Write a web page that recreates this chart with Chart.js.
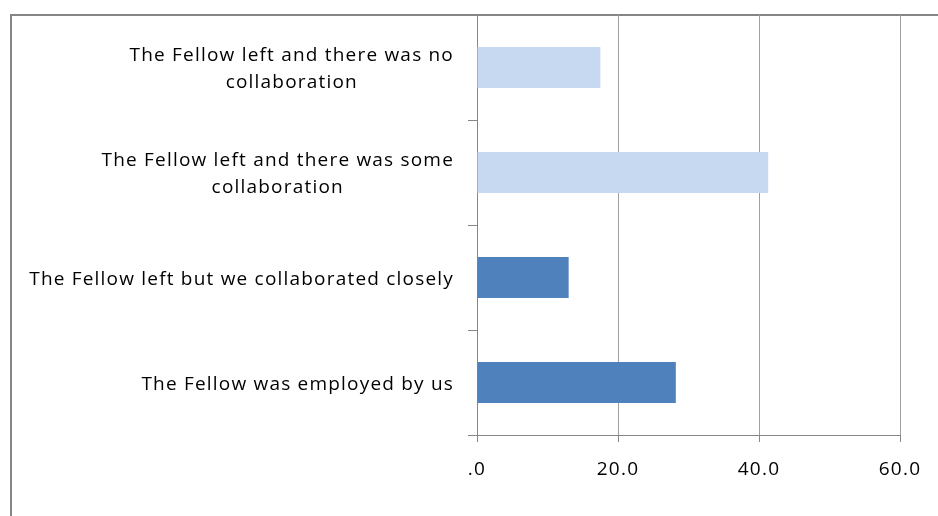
<!DOCTYPE html>
<html>
<head>
<meta charset="utf-8">
<script src="https://cdn.jsdelivr.net/npm/chart.js@4/dist/chart.umd.min.js"></script>
<style>
  html, body { margin: 0; padding: 0; background: #fff; }
  #wrap { width: 938px; height: 516px; position: relative; }
</style>
</head>
<body>
<div id="wrap"><canvas id="c" width="938" height="516"></canvas></div>
<script>
// Response categories, top to bottom, split into display lines
const categories = [
  ["The Fellow left and there was no", "collaboration"],
  ["The Fellow left and there was some", "collaboration"],
  ["The Fellow left but we collaborated closely"],
  ["The Fellow was employed by us"]
];
// Share of responses (%)
const shares = [17.5, 41.3, 13.0, 28.2];
// Value-axis tick labels
const xTickValues = [0, 20, 40, 60];
const xTickLabels = [".0", "20.0", "40.0", "60.0"];

const LIGHT = "#C6D9F1";
const DARK = "#4F81BD";
const AXIS = "#868686";
const FONT = "19px 'Open Sans', Lato, sans-serif";
const SPACING = "1.2px";

function setText(ctx) {
  ctx.font = FONT;
  ctx.fillStyle = "#000";
  ctx.letterSpacing = SPACING;
}

// Outer chart frame (top and left edges)
const framePlugin = {
  id: "frame",
  beforeDraw(chart) {
    const ctx = chart.ctx;
    ctx.save();
    ctx.strokeStyle = AXIS;
    ctx.lineWidth = 2;
    ctx.beginPath();
    ctx.moveTo(11, chart.height);
    ctx.lineTo(11, 15);
    ctx.lineTo(chart.width, 15);
    ctx.stroke();
    ctx.restore();
  }
};

// Category labels (right-aligned blocks, centred lines) and value-axis labels
const labelPlugin = {
  id: "labels",
  afterDraw(chart) {
    const ctx = chart.ctx;
    const y = chart.scales.y;
    const x = chart.scales.x;
    const rightEdge = y.right - 23;
    const lineH = 27;
    ctx.save();
    setText(ctx);
    ctx.textBaseline = "middle";
    ctx.textAlign = "center";
    categories.forEach((lines, i) => {
      const cy = y.getPixelForValue(i) + 2;
      const w = Math.max(...lines.map(l => ctx.measureText(l).width));
      const cx = rightEdge - w / 2;
      const y0 = cy - (lines.length - 1) * lineH / 2;
      lines.forEach((l, k) => ctx.fillText(l, cx, y0 + k * lineH));
    });
    xTickValues.forEach((v, i) => {
      ctx.fillText(xTickLabels[i], x.getPixelForValue(v), x.top + 35);
    });
    ctx.restore();
  }
};

new Chart(document.getElementById("c"), {
  type: "bar",
  data: {
    labels: categories.map(l => l.join(" ")),
    datasets: [{
      data: shares,
      backgroundColor: [LIGHT, LIGHT, DARK, DARK],
      borderWidth: 0,
      categoryPercentage: 1,
      barPercentage: 0.39
    }]
  },
  options: {
    indexAxis: "y",
    responsive: false,
    animation: false,
    devicePixelRatio: 1,
    layout: { padding: { top: 15, right: 38, left: 0, bottom: 0 } },
    plugins: { legend: { display: false }, tooltip: { enabled: false } },
    scales: {
      x: {
        min: 0, max: 60,
        afterBuildTicks(scale) { scale.ticks = xTickValues.map(v => ({ value: v })); },
        afterFit(scale) { scale.height = 81; },
        ticks: { display: false },
        grid: { color: "#a0a0a0", lineWidth: 1, tickLength: 7, tickColor: AXIS },
        border: { color: AXIS, width: 1 }
      },
      y: {
        afterFit(scale) { scale.width = 477; },
        ticks: { display: false },
        grid: { drawOnChartArea: false, tickLength: 9, color: AXIS, offset: true },
        border: { color: AXIS, width: 1 }
      }
    }
  },
  plugins: [framePlugin, labelPlugin]
});
</script>
</body>
</html>
